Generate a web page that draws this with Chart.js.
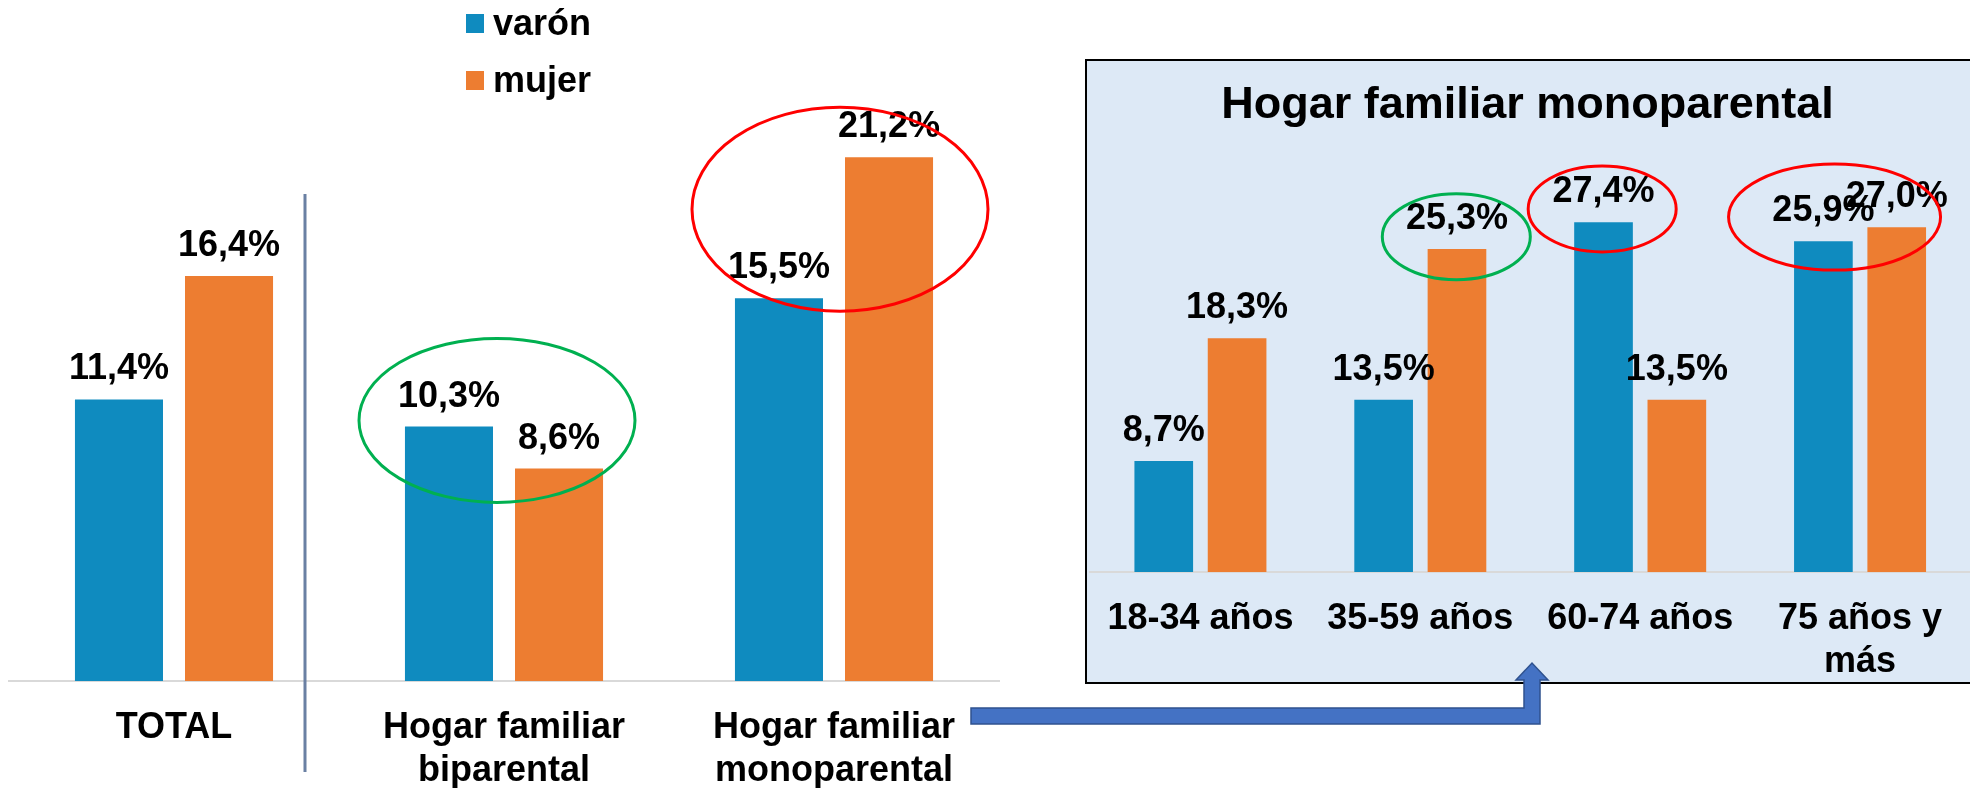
<!DOCTYPE html>
<html lang="es">
<head>
<meta charset="utf-8">
<title>Hogar familiar monoparental</title>
<script src="https://cdn.jsdelivr.net/npm/chart.js@4.4.1/dist/chart.umd.min.js"></script>
<style>
  html, body { margin: 0; padding: 0; background: #fff; }
  body { width: 1970px; height: 788px; overflow: hidden; position: relative; }
  #mainChart { position: absolute; left: 0; top: 0; }
  #box { position: absolute; left: 1085px; top: 59px; width: 900px; height: 625px;
         border: 2px solid #000; box-sizing: border-box; background: #dde9f6; }
  #ageChart { position: absolute; left: 1082px; top: 61px; }
  #overlay { position: absolute; left: 0; top: 0; pointer-events: none; }
</style>
</head>
<body>
<canvas id="mainChart" width="1010" height="788"></canvas>
<div id="box"></div>
<canvas id="ageChart" width="888" height="621"></canvas>
<svg id="overlay" width="1970" height="788">
  <line x1="305" y1="194" x2="305" y2="772" stroke="#6a80a3" stroke-width="3"/>
  <polygon points="971,708 1524,708 1524,680 1516,680 1532,663 1548,680 1540,680 1540,724 971,724"
           fill="#4472c4" stroke="#2f528f" stroke-width="1.5"/>
</svg>
<script>
// data
const mainCategories = ['TOTAL', ['Hogar familiar', 'biparental'], ['Hogar familiar', 'monoparental']];
const mainVaron = [11.4, 10.3, 15.5];
const mainMujer = [16.4, 8.6, 21.2];

const ageCategories = ['18-34 años', '35-59 años', '60-74 años', ['75 años y', 'más']];
const ageVaron = [8.7, 13.5, 27.4, 25.9];
const ageMujer = [18.3, 25.3, 13.5, 27.0];

const seriesNames = ['varón', 'mujer'];

const FONT = '"Liberation Sans", Arial, Helvetica, sans-serif';
const BLUE = '#0f8bbf';
const ORANGE = '#ed7d31';

// 0,0% style labels
const fmt = v => v.toFixed(1).replace('.', ',') + '%';

const valueLabels = {
    id: 'valueLabels',
    afterDatasetsDraw(chart) {
        const ctx = chart.ctx;
        ctx.save();
        ctx.font = 'bold 36px ' + FONT;
        ctx.fillStyle = '#000';
        ctx.textAlign = 'center';
        ctx.textBaseline = 'alphabetic';
        chart.data.datasets.forEach((ds, i) => {
            chart.getDatasetMeta(i).data.forEach((bar, j) => {
                ctx.fillText(fmt(ds.data[j]), bar.x, bar.y - 20);
            });
        });
        ctx.restore();
    }
};

// hand drawn circles around groups
function ringsPlugin(rings) {
    return {
        id: 'rings',
        afterDraw(chart) {
            const { ctx, scales: { x, y } } = chart;
            rings.forEach(r => {
                ctx.save();
                ctx.beginPath();
                ctx.ellipse(x.getPixelForValue(r.cat) + r.dx, y.getPixelForValue(r.at), r.rx, r.ry, 0, 0, Math.PI * 2);
                ctx.strokeStyle = r.color;
                ctx.lineWidth = r.width;
                ctx.stroke();
                ctx.restore();
            });
        }
    };
}

// stacked legend at the top
const sideLegend = {
    id: 'sideLegend',
    afterDraw(chart) {
        const ctx = chart.ctx;
        ctx.save();
        ctx.font = 'bold 36px ' + FONT;
        ctx.textAlign = 'left';
        ctx.textBaseline = 'alphabetic';
        chart.data.datasets.forEach((ds, i) => {
            const base = 35 + i * 57;
            ctx.fillStyle = ds.backgroundColor;
            ctx.fillRect(466, base - 21, 18, 19);
            ctx.fillStyle = '#000';
            ctx.fillText(ds.label, 493, base);
        });
        ctx.restore();
    }
};

function xAxis(height, padding) {
    return {
        grid: { display: false, drawTicks: false },
        border: { display: true, color: '#d9d9d9', width: 2 },
        ticks: {
            color: '#000',
            font: { family: FONT, size: 36, weight: 'bold', lineHeight: 1.2 },
            padding: padding,
            maxRotation: 0,
            autoSkip: false
        },
        afterFit: s => { s.height = height; }
    };
}

function datasets(varon, mujer) {
    return [
        { label: seriesNames[0], data: varon, backgroundColor: BLUE, categoryPercentage: 0.667, barPercentage: 0.8 },
        { label: seriesNames[1], data: mujer, backgroundColor: ORANGE, categoryPercentage: 0.667, barPercentage: 0.8 }
    ];
}

new Chart(document.getElementById('mainChart'), {
    type: 'bar',
    data: { labels: mainCategories, datasets: datasets(mainVaron, mainMujer) },
    options: {
        responsive: false,
        animation: false,
        layout: { padding: { left: 9, right: 11, top: 63.5, bottom: 0 } },
        plugins: { legend: { display: false }, tooltip: { enabled: false } },
        scales: {
            x: xAxis(107, 25),
            y: { display: false, min: 0, max: 25 }
        }
    },
    plugins: [valueLabels, sideLegend, ringsPlugin([
        { cat: 2, dx: 6, at: 19.1, rx: 148, ry: 102, color: '#ff0000', width: 3 },
        { cat: 1, dx: -7, at: 10.55, rx: 138, ry: 82, color: '#00b050', width: 3 }
    ])]
});

new Chart(document.getElementById('ageChart'), {
    type: 'bar',
    data: { labels: ageCategories, datasets: datasets(ageVaron, ageMujer) },
    options: {
        responsive: false,
        animation: false,
        layout: { padding: { left: 3, right: 0, top: 0, bottom: 0 } },
        plugins: {
            legend: { display: false },
            tooltip: { enabled: false },
            title: {
                display: true,
                text: 'Hogar familiar monoparental',
                color: '#000',
                font: { family: FONT, size: 45, weight: 'bold', lineHeight: 1.2 },
                padding: { top: 18, bottom: 56 }
            }
        },
        scales: {
            x: xAxis(110, 25),
            y: { display: false, min: 0, max: 30 }
        }
    },
    plugins: [valueLabels, ringsPlugin([
        { cat: 1, dx: 36, at: 26.26, rx: 74, ry: 43, color: '#00b050', width: 3 },
        { cat: 2, dx: -38, at: 28.44, rx: 74, ry: 43, color: '#ff0000', width: 3 },
        { cat: 3, dx: -25.5, at: 27.8, rx: 106, ry: 53, color: '#ff0000', width: 3 }
    ])]
});
</script>
</body>
</html>
